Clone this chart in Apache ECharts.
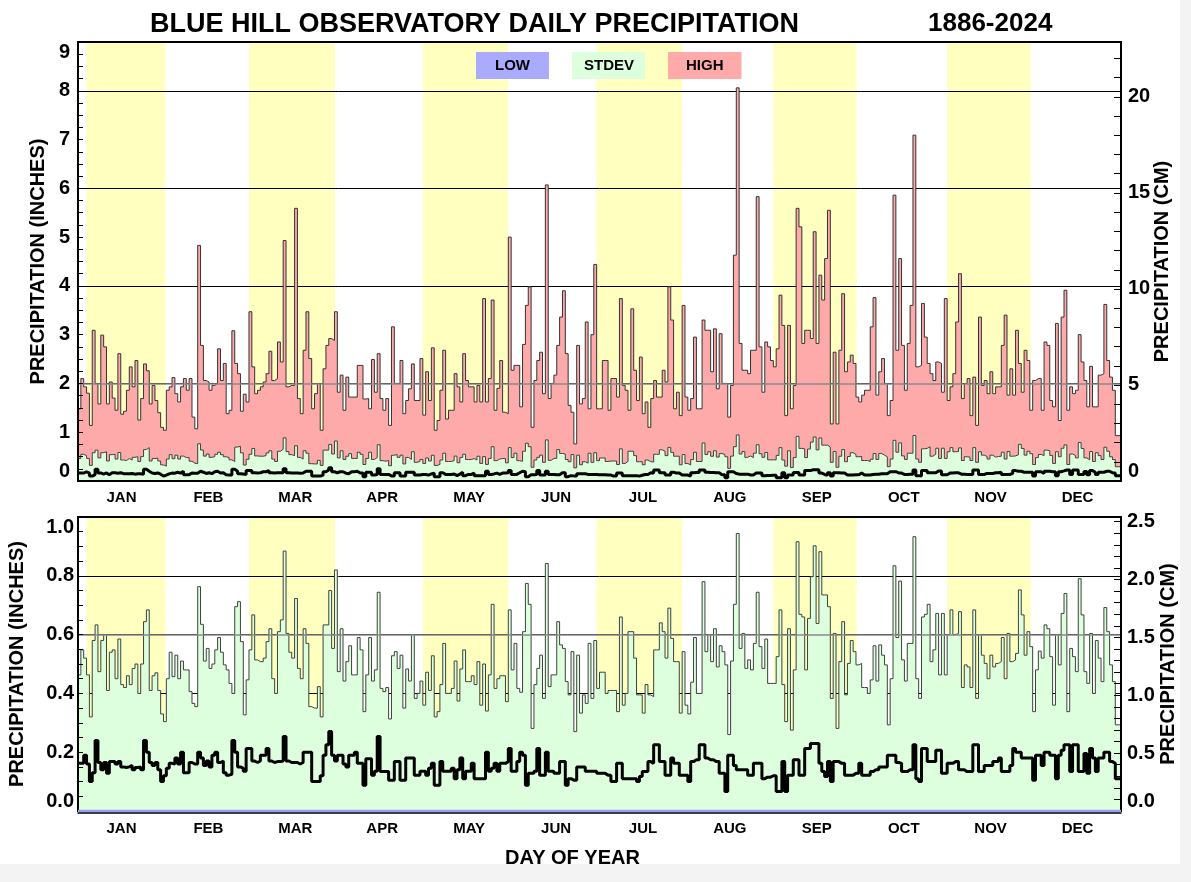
<!DOCTYPE html>
<html><head><meta charset="utf-8">
<script src="https://cdn.jsdelivr.net/npm/echarts@6/dist/echarts.min.js"></script>
<style>html,body{margin:0;padding:0;background:#f3f3f3;}#c{width:1180px;height:864px;background:#fff;}</style>
</head><body><div id="c"></div>
<script>
const months = ['JAN','FEB','MAR','APR','MAY','JUN','JUL','AUG','SEP','OCT','NOV','DEC'];
// yellow shaded months (day-of-year ranges, 0-based)
const yellowBands = [[3,30.7],[60,90.2],[121,151],[182,212],[244,273.2],[305,334.3]];

// HIGH (inches)
const highJan = [1.48,2.1,1.93,1.8,1.14,3.09,2.0,1.58,2.99,2.75,1.58,2.03,1.7,1.45,2.61,1.37,1.43,1.86,2.34,1.93,2.47,1.25,1.69,2.4,2.26,1.58,1.96,1.65,1.4,1.1,1.04];
const highFeb = [1.86,1.93,2.12,1.79,1.62,1.93,2.1,1.86,2.1,1.31,1.07,4.83,2.78,2.06,2.03,1.86,1.96,2.0,2.71,2.06,2.41,1.38,1.45,3.08,2.41,2.2,1.43,1.78,1.62];
const highMar = [3.47,2.34,1.79,1.86,1.93,2.03,2.2,2.66,2.06,2.1,2.85,2.44,4.93,1.93,1.96,1.96,5.59,1.69,1.38,2.68,3.47,2.51,1.48,1.79,2.0,1.04,2.3,2.78,2.92,2.88,3.47];
const highApr = [1.82,2.17,1.45,2.13,1.72,1.72,1.72,2.37,2.37,1.68,1.69,1.48,2.49,1.82,2.61,1.69,1.45,1.69,1.14,3.16,2.0,2.0,2.47,1.38,1.65,1.89,2.4,1.65,1.65,2.51];
const highMay = [1.35,2.24,1.65,2.73,1.04,1.24,1.86,2.68,1.27,1.45,1.45,2.2,1.93,1.62,2.61,2.06,1.93,1.93,1.62,1.96,1.62,3.74,1.62,2.1,3.71,1.45,1.9,2.47,1.41,1.38,5.0];
const highJun = [2.27,2.37,2.37,1.52,2.8,3.6,3.98,1.1,2.06,2.47,2.64,1.79,6.07,1.69,2.0,2.17,2.78,3.36,3.9,2.61,1.55,1.41,0.76,2.78,1.58,1.69,3.26,1.48,3.0,4.44];
const highJul = [1.48,1.48,2.47,2.47,1.45,2.1,2.1,1.72,3.74,1.96,1.86,1.45,3.53,2.27,1.65,2.54,1.38,1.62,1.1,1.69,2.06,1.72,1.72,2.27,2.03,3.98,3.3,1.48,1.82,1.34,3.6];
const highAug = [1.72,1.45,1.69,2.95,1.48,1.48,3.3,3.09,3.09,2.24,3.12,1.89,3.02,2.0,2.0,1.31,1.96,4.63,8.06,2.82,2.27,2.27,2.2,2.68,2.68,5.83,2.75,1.82,2.85,2.75,2.47];
const highSep = [2.34,2.71,3.81,3.19,1.34,3.19,1.48,1.96,5.59,5.21,2.82,3.09,3.09,2.92,5.11,2.82,4.22,3.71,4.56,5.55,1.17,2.64,1.17,2.68,3.84,2.24,2.44,2.58,2.41,1.72];
const highOct = [1.62,1.76,1.86,1.86,3.16,3.76,1.76,2.24,2.51,2.0,1.34,1.65,5.86,2.68,4.56,2.78,1.86,2.82,3.6,7.09,2.34,2.37,3.64,2.95,2.41,2.2,2.06,2.44,2.41,1.82,3.74];
const highNov = [1.65,1.93,2.2,3.26,4.25,1.69,2.0,2.1,1.34,2.13,1.14,3.36,1.96,2.06,1.79,2.24,1.79,1.93,1.93,2.78,3.4,1.76,2.3,1.76,3.09,2.41,1.82,2.68,2.47,1.45];
const highDec = [2.06,2.1,2.1,1.45,2.85,2.78,1.65,1.52,3.23,1.24,3.36,3.91,1.45,1.93,1.79,1.86,3.0,2.44,2.06,1.52,2.35,1.52,1.52,2.17,2.2,3.62,2.47,2.13,1.86,0.93,0.93];

// STDEV (inches)
const sdJan = [0.463,0.548,0.52,0.463,0.32,0.58,0.633,0.474,0.58,0.6,0.41,0.54,0.548,0.45,0.585,0.43,0.42,0.46,0.43,0.485,0.5,0.4,0.5,0.644,0.684,0.41,0.46,0.47,0.41,0.33,0.304];
const sdFeb = [0.45,0.54,0.457,0.53,0.45,0.51,0.48,0.48,0.406,0.366,0.355,0.763,0.635,0.51,0.553,0.485,0.5,0.548,0.59,0.54,0.497,0.48,0.434,0.4,0.695,0.712,0.576,0.327,0.446];
const sdMar = [0.548,0.667,0.514,0.508,0.508,0.52,0.576,0.62,0.45,0.4,0.61,0.65,0.884,0.604,0.54,0.52,0.723,0.485,0.45,0.62,0.57,0.355,0.35,0.35,0.423,0.32,0.633,0.633,0.75,0.553,0.82];
const sdApr = [0.474,0.62,0.442,0.508,0.562,0.463,0.463,0.59,0.548,0.338,0.463,0.59,0.442,0.48,0.744,0.417,0.406,0.42,0.313,0.528,0.542,0.485,0.53,0.35,0.483,0.442,0.6,0.383,0.4,0.442];
const sdMay = [0.36,0.472,0.41,0.528,0.32,0.338,0.43,0.57,0.4,0.4,0.417,0.51,0.374,0.483,0.548,0.44,0.44,0.46,0.43,0.508,0.36,0.5,0.34,0.463,0.703,0.417,0.45,0.46,0.46,0.372,0.684];
const sdJun = [0.48,0.57,0.417,0.404,0.61,0.774,0.703,0.281,0.43,0.485,0.53,0.383,0.842,0.423,0.463,0.463,0.644,0.565,0.553,0.44,0.395,0.542,0.27,0.53,0.333,0.395,0.366,0.57,0.383,0.58];
const sdJul = [0.417,0.472,0.472,0.4,0.41,0.41,0.41,0.338,0.66,0.36,0.4,0.61,0.61,0.52,0.395,0.395,0.333,0.43,0.395,0.389,0.548,0.548,0.64,0.61,0.52,0.69,0.587,0.508,0.508,0.333,0.542];
const sdAug = [0.36,0.33,0.438,0.59,0.4,0.4,0.78,0.542,0.6,0.508,0.62,0.49,0.562,0.542,0.497,0.26,0.51,0.703,0.944,0.553,0.604,0.485,0.514,0.48,0.57,0.744,0.559,0.485,0.585,0.434,0.434];
const sdSep = [0.434,0.525,0.684,0.43,0.304,0.62,0.275,0.48,0.916,0.669,0.66,0.48,0.655,0.797,0.902,0.638,0.882,0.735,0.735,0.695,0.383,0.604,0.281,0.508,0.644,0.395,0.502,0.58,0.542,0.497];
const sdOct = [0.502,0.42,0.42,0.4,0.446,0.562,0.442,0.565,0.53,0.497,0.293,0.45,0.834,0.59,0.782,0.514,0.442,0.57,0.57,0.933,0.45,0.383,0.66,0.669,0.703,0.508,0.548,0.672,0.463,0.672,0.463];
const sdNov = [0.6,0.684,0.6,0.604,0.678,0.42,0.497,0.49,0.42,0.684,0.383,0.6,0.53,0.502,0.45,0.53,0.49,0.502,0.508,0.59,0.45,0.604,0.508,0.514,0.536,0.752,0.667,0.53,0.61,0.559];
const sdDec = [0.338,0.48,0.544,0.52,0.633,0.62,0.525,0.36,0.6,0.497,0.672,0.74,0.338,0.553,0.525,0.474,0.79,0.667,0.474,0.434,0.604,0.4,0.58,0.52,0.44,0.692,0.61,0.497,0.44,0.293,0.293];

// MEAN (inches)
const meanJan = [0.162,0.162,0.19,0.16,0.1,0.13,0.24,0.165,0.14,0.165,0.128,0.168,0.168,0.16,0.168,0.15,0.148,0.15,0.155,0.14,0.148,0.15,0.14,0.24,0.2,0.165,0.155,0.165,0.14,0.1,0.12];
const meanFeb = [0.145,0.162,0.16,0.18,0.16,0.2,0.13,0.13,0.165,0.16,0.16,0.2,0.18,0.155,0.17,0.15,0.19,0.2,0.165,0.17,0.13,0.122,0.125,0.24,0.2,0.15,0.145,0.135,0.213];
const meanMar = [0.213,0.17,0.165,0.17,0.19,0.19,0.213,0.17,0.165,0.168,0.168,0.17,0.253,0.17,0.165,0.165,0.165,0.16,0.165,0.2,0.2,0.2,0.1,0.1,0.1,0.12,0.19,0.225,0.27,0.19,0.17];
const meanApr = [0.19,0.19,0.16,0.15,0.19,0.19,0.2,0.162,0.162,0.088,0.178,0.178,0.122,0.135,0.253,0.134,0.134,0.134,0.105,0.105,0.168,0.168,0.105,0.105,0.18,0.18,0.18,0.122,0.122,0.135];
const meanMay = [0.135,0.122,0.145,0.162,0.088,0.088,0.168,0.135,0.135,0.135,0.145,0.11,0.14,0.18,0.11,0.135,0.135,0.162,0.11,0.11,0.11,0.11,0.2,0.135,0.145,0.162,0.135,0.162,0.162,0.168,0.213];
const meanJun = [0.135,0.135,0.168,0.2,0.19,0.088,0.128,0.128,0.135,0.213,0.122,0.122,0.2,0.135,0.135,0.128,0.128,0.168,0.168,0.088,0.11,0.105,0.105,0.15,0.15,0.15,0.135,0.135,0.135,0.135];
const meanJul = [0.128,0.128,0.128,0.122,0.122,0.1,0.1,0.162,0.162,0.11,0.11,0.11,0.11,0.11,0.1,0.117,0.134,0.134,0.168,0.162,0.225,0.225,0.168,0.168,0.122,0.122,0.18,0.162,0.162,0.122,0.122];
const meanAug = [0.122,0.1,0.168,0.174,0.174,0.225,0.225,0.18,0.174,0.174,0.168,0.168,0.128,0.128,0.066,0.19,0.19,0.155,0.14,0.14,0.14,0.14,0.122,0.122,0.162,0.162,0.162,0.11,0.115,0.115,0.12];
const meanSep = [0.12,0.066,0.066,0.168,0.066,0.122,0.122,0.174,0.174,0.122,0.122,0.213,0.213,0.23,0.23,0.23,0.162,0.134,0.117,0.168,0.1,0.168,0.168,0.162,0.162,0.122,0.122,0.122,0.128,0.128];
const meanOct = [0.162,0.122,0.122,0.122,0.134,0.14,0.14,0.15,0.15,0.15,0.19,0.19,0.19,0.165,0.162,0.134,0.134,0.14,0.14,0.225,0.11,0.1,0.213,0.213,0.168,0.168,0.168,0.207,0.207,0.128,0.128];
const meanNov = [0.162,0.162,0.168,0.168,0.14,0.14,0.134,0.134,0.134,0.225,0.225,0.134,0.134,0.155,0.155,0.155,0.168,0.168,0.18,0.134,0.134,0.134,0.155,0.213,0.2,0.2,0.18,0.18,0.18,0.18];
const meanDec = [0.105,0.19,0.19,0.155,0.2,0.2,0.19,0.19,0.11,0.19,0.207,0.225,0.225,0.134,0.225,0.225,0.134,0.134,0.196,0.128,0.213,0.18,0.134,0.18,0.18,0.2,0.2,0.168,0.162,0.11,0.11];

// LOW (inches) - zero on every day
const lowValues = [
0,0,0,0,0,0,0,0,0,0,0,0,0,0,0,0,0,0,0,0,0,0,0,0,0,0,0,0,0,0,0,
0,0,0,0,0,0,0,0,0,0,0,0,0,0,0,0,0,0,0,0,0,0,0,0,0,0,0,0,0,
0,0,0,0,0,0,0,0,0,0,0,0,0,0,0,0,0,0,0,0,0,0,0,0,0,0,0,0,0,0,0,
0,0,0,0,0,0,0,0,0,0,0,0,0,0,0,0,0,0,0,0,0,0,0,0,0,0,0,0,0,0,
0,0,0,0,0,0,0,0,0,0,0,0,0,0,0,0,0,0,0,0,0,0,0,0,0,0,0,0,0,0,0,
0,0,0,0,0,0,0,0,0,0,0,0,0,0,0,0,0,0,0,0,0,0,0,0,0,0,0,0,0,0,
0,0,0,0,0,0,0,0,0,0,0,0,0,0,0,0,0,0,0,0,0,0,0,0,0,0,0,0,0,0,0,
0,0,0,0,0,0,0,0,0,0,0,0,0,0,0,0,0,0,0,0,0,0,0,0,0,0,0,0,0,0,0,
0,0,0,0,0,0,0,0,0,0,0,0,0,0,0,0,0,0,0,0,0,0,0,0,0,0,0,0,0,0,
0,0,0,0,0,0,0,0,0,0,0,0,0,0,0,0,0,0,0,0,0,0,0,0,0,0,0,0,0,0,0,
0,0,0,0,0,0,0,0,0,0,0,0,0,0,0,0,0,0,0,0,0,0,0,0,0,0,0,0,0,0,
0,0,0,0,0,0,0,0,0,0,0,0,0,0,0,0,0,0,0,0,0,0,0,0,0,0,0,0,0,0,0];

const high = [].concat(highJan,highFeb,highMar,highApr,highMay,highJun,highJul,highAug,highSep,highOct,highNov,highDec);
const stdev = [].concat(sdJan,sdFeb,sdMar,sdApr,sdMay,sdJun,sdJul,sdAug,sdSep,sdOct,sdNov,sdDec);
const mean = [].concat(meanJan,meanFeb,meanMar,meanApr,meanMay,meanJun,meanJul,meanAug,meanSep,meanOct,meanNov,meanDec);

// each day's value is held across that day: [day, value] plus closing point
function stepData(vals){ const out = vals.map((v,i)=>[i,v]); out.push([vals.length, vals[vals.length-1]]); return out; }
const DAYS = high.length;

const FF = 'Liberation Sans, Arial, Helvetica, sans-serif';
const bold = (size) => ({fontFamily: FF, fontWeight: 'bold', fontSize: size, color: '#000'});
const near = (a,b) => Math.abs(a-b) < 1e-6;

const bandArea = {silent: true, z: 0.5, itemStyle: {color: '#ffffc0'}, label: {show: false},
  data: yellowBands.map(b => [{xAxis: b[0]}, {xAxis: b[1]}])};

function panelSeries(xi, yi, withHigh, refLine){
  const s = [];
  s.push({name: 'bands', type: 'line', xAxisIndex: xi, yAxisIndex: yi, data: stepData(lowValues), step: 'end',
    symbol: 'none', silent: true, lineStyle: {opacity: 0}, z: 1, markArea: bandArea});
  if (withHigh) s.push({name: 'HIGH', type: 'line', xAxisIndex: xi, yAxisIndex: yi, data: stepData(high), step: 'end',
    symbol: 'none', silent: true, lineStyle: {color: '#333333', width: 1}, itemStyle: {color: '#ffaaaa'},
    areaStyle: {color: '#ffaaaa', opacity: 1}, z: 2});
  s.push({name: 'STDEV', type: 'line', xAxisIndex: xi, yAxisIndex: yi, data: stepData(stdev), step: 'end',
    symbol: 'none', silent: true, lineStyle: {color: '#3c433c', width: 1}, itemStyle: {color: '#ddffdd'},
    areaStyle: {color: '#ddffdd', opacity: 1}, z: 3});
  s.push({name: 'MEAN', type: 'line', xAxisIndex: xi, yAxisIndex: yi, data: stepData(mean), step: 'end',
    symbol: 'none', silent: true, lineStyle: {color: '#000', width: 3}, z: 4,
    markLine: {silent: true, symbol: ['none','none'], label: {show: false}, animation: false,
      lineStyle: {color: '#8a8a8a', width: 1.5, type: 'solid'}, data: [{yAxis: refLine}]}});
  s.push({name: 'LOW', type: 'line', xAxisIndex: xi, yAxisIndex: yi, data: stepData(lowValues), step: 'end',
    symbol: 'none', silent: true, lineStyle: {color: '#9999ff', width: withHigh ? 1 : 2.5}, itemStyle: {color: '#aaaaff'},
    z: withHigh ? 5 : 11});
  return s;
}

const chart = echarts.init(document.getElementById('c'), null, {renderer: 'canvas'});
const yTickAxis = (gi, pos, max, interval, fmt, name, gap, tickLen, margin) => ({
  type: 'value', gridIndex: gi, position: pos, min: 0, max: max, interval: interval, z: 10,
  axisLine: {show: false}, splitLine: {show: false},
  axisTick: {show: true, inside: true, length: tickLen, lineStyle: {color: '#000', width: 1}},
  axisLabel: {show: true, formatter: fmt, margin: margin, ...bold(20), verticalAlignMinLabel: 'bottom',
    verticalAlignMaxLabel: pos === 'left' ? 'top' : undefined},
  name: name, nameLocation: 'middle', nameRotate: 90, nameGap: gap, nameMoveOverlap: false, nameTextStyle: bold(20)
});
const yGridAxis = (gi, max, interval) => ({
  type: 'value', gridIndex: gi, min: 0, max: max, interval: interval, z: 1,
  axisLine: {show: false}, axisTick: {show: false}, axisLabel: {show: false},
  splitLine: {show: true, lineStyle: {color: '#000', width: 1}}
});

const option = {
  animation: false,
  backgroundColor: '#fff',
  title: [
    {text: 'BLUE HILL OBSERVATORY DAILY PRECIPITATION', left: 145, top: 6, textStyle: bold(27)},
    {text: '1886-2024', left: 923, top: 6, textStyle: bold(26)}
  ],
  legend: {
    left: 471, top: 52, padding: 0, itemGap: 18, itemWidth: 0, itemHeight: 0, icon: 'none', selectedMode: false,
    textStyle: {...bold(15), lineHeight: 15},
    data: [
      {name: 'LOW', textStyle: {backgroundColor: '#aaaaff', padding: [6, 19, 6, 19]}},
      {name: 'STDEV', textStyle: {backgroundColor: '#ddffdd', padding: [6, 11, 6, 12]}},
      {name: 'HIGH', textStyle: {backgroundColor: '#ffaaaa', padding: [6, 18, 6, 18]}}
    ]
  },
  grid: [
    {left: 78, right: 59, top: 42, height: 439, show: true, backgroundColor: 'transparent', borderColor: '#000', borderWidth: 2, z: 10, containLabel: false, outerBoundsMode: 'none'},
    {left: 78, right: 59, top: 517, height: 294, show: true, backgroundColor: 'transparent', borderColor: '#000', borderWidth: 2, z: 10, containLabel: false, outerBoundsMode: 'none'}
  ],
  xAxis: [
    {type: 'value', gridIndex: 0, min: 0, max: DAYS, show: false},
    {type: 'category', gridIndex: 0, data: months, boundaryGap: true, position: 'bottom',
      axisLine: {show: false}, axisTick: {show: false}, splitLine: {show: false},
      axisLabel: {...bold(15), margin: 9, interval: 0}},
    {type: 'value', gridIndex: 1, min: 0, max: DAYS, show: false},
    {type: 'category', gridIndex: 1, data: months, boundaryGap: true, position: 'bottom', z: 12,
      axisLine: {show: true, onZero: false, lineStyle: {color: '#000', width: 1.5}}, offset: 1.5,
      axisTick: {show: false}, splitLine: {show: false},
      axisLabel: {...bold(15), margin: 9, interval: 0},
      name: 'DAY OF YEAR', nameLocation: 'middle', nameGap: 36, nameMoveOverlap: false,
      nameTextStyle: {...bold(20), padding: [0, 54, 0, 0]}}
  ],
  yAxis: [
    yTickAxis(0, 'left', 9, 0.25, v => near(v, Math.round(v)) ? String(Math.round(v)) : '', 'PRECIPITATION (INCHES)', 30, 5, 8),
    yTickAxis(0, 'right', 9 * 2.54, 1, v => near(v / 5, Math.round(v / 5)) ? String(Math.round(v)) : '', 'PRECIPITATION (CM)', 31, 7, 7),
    yGridAxis(0, 9, 2),
    yTickAxis(1, 'left', 1, 0.05, v => near(v * 5, Math.round(v * 5)) ? v.toFixed(1) : '', 'PRECIPITATION (INCHES)', 51, 5, 4),
    yTickAxis(1, 'right', 2.54, 0.1, v => near(v * 2, Math.round(v * 2)) ? v.toFixed(1) : '', 'PRECIPITATION (CM)', 37, 7, 6),
    yGridAxis(1, 1, 0.2)
  ],
  series: [].concat(panelSeries(0, 0, true, 2), panelSeries(2, 3, false, 0.6))
};
chart.setOption(option);
</script></body></html>
